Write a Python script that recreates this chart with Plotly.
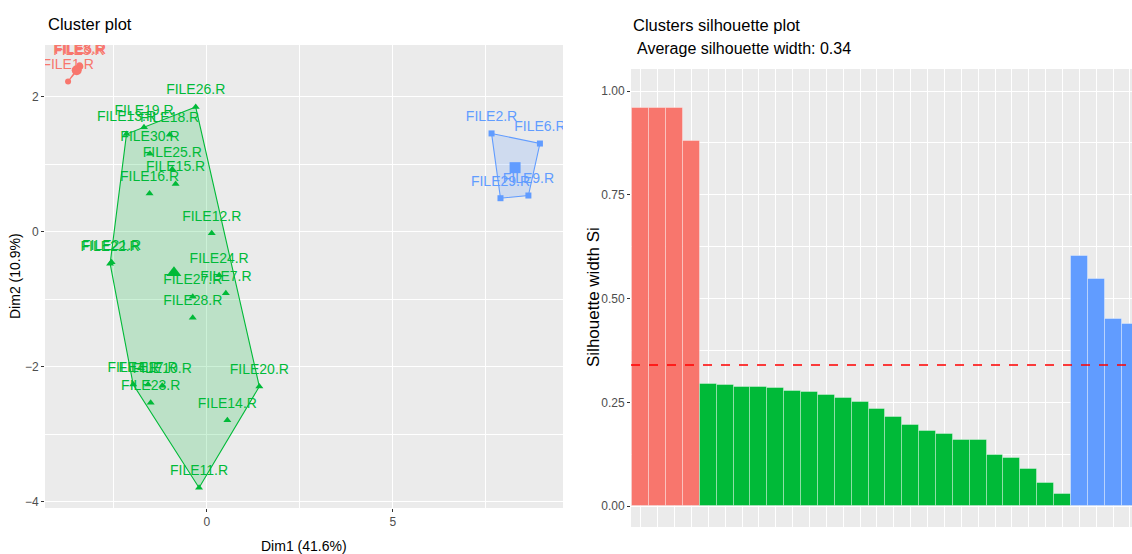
import plotly.graph_objects as go

W, H = 1132, 554

# ---------------- data ----------------
red_names = ["FILE1.R", "FILE3.R", "FILE5.R", "FILE8.R"]
red_x = [-3.73, -3.44, -3.40, -3.42]
red_y = [2.23, 2.43, 2.45, 2.47]

green_names = ["FILE26.R", "FILE19.R", "FILE13.R", "FILE18.R", "FILE30.R", "FILE25.R",
               "FILE15.R", "FILE16.R", "FILE12.R", "FILE22.R", "FILE21.R", "FILE24.R",
               "FILE7.R", "FILE27.R", "FILE28.R", "FILE20.R", "FILE14.R", "FILE11.R",
               "FILE23.R", "FILE4.R", "FILE17.R", "FILE10.R"]
green_x = [-0.30, -1.69, -2.16, -1.00, -1.53, -0.93, -0.84, -1.54, 0.13, -2.60, -2.56, 0.33,
           0.51, -0.38, -0.38, 1.41, 0.55, -0.21, -1.51, -1.98, -1.58, -1.20]
green_y = [1.85, 1.55, 1.45, 1.44, 1.16, 0.93, 0.71, 0.57, -0.02, -0.47, -0.45, -0.64,
           -0.91, -0.96, -1.27, -2.29, -2.79, -3.79, -2.53, -2.26, -2.26, -2.28]

blue_names = ["FILE2.R", "FILE6.R", "FILE9.R", "FILE29.R"]
blue_x = [7.65, 8.95, 8.64, 7.89]
blue_y = [1.46, 1.31, 0.54, 0.50]

sil_red = [0.96, 0.96, 0.96, 0.88]
sil_green = [0.295, 0.292, 0.287, 0.287, 0.284, 0.278, 0.276, 0.269, 0.261, 0.251, 0.234,
             0.216, 0.195, 0.182, 0.174, 0.160, 0.160, 0.123, 0.115, 0.090, 0.056, 0.030]
sil_blue = [0.602, 0.547, 0.452, 0.439]
avg_sil = 0.34

RED, GREEN, BLUE = "#F8766D", "#00BA38", "#619CFF"
FONT = "Liberation Sans, Arial, sans-serif"


def hull(xs, ys):
    pts = sorted(set(zip(xs, ys)))
    if len(pts) < 3:
        return pts

    def cross(o, a, b):
        return (a[0] - o[0]) * (b[1] - o[1]) - (a[1] - o[1]) * (b[0] - o[0])
    lower, upper = [], []
    for p in pts:
        while len(lower) >= 2 and cross(lower[-2], lower[-1], p) <= 0:
            lower.pop()
        lower.append(p)
    for p in reversed(pts):
        while len(upper) >= 2 and cross(upper[-2], upper[-1], p) <= 0:
            upper.pop()
        upper.append(p)
    h = lower[:-1] + upper[:-1]
    return h + [h[0]]


def rgba(hexc, a):
    h = hexc.lstrip("#")
    return "rgba(%d,%d,%d,%s)" % (int(h[0:2], 16), int(h[2:4], 16), int(h[4:6], 16), a)


fig = go.Figure()

clusters = [
    (red_names, red_x, red_y, RED, "circle", 6, 10),
    (green_names, green_x, green_y, GREEN, "triangle-up", 7, 13),
    (blue_names, blue_x, blue_y, BLUE, "square", 6, 11),
]

for names, xs, ys, col, sym, ms, cs in clusters:
    hp = hull(xs, ys)
    fig.add_trace(go.Scatter(
        x=[p[0] for p in hp], y=[p[1] for p in hp], mode="lines", fill="toself",
        fillcolor=rgba(col, 0.2), line=dict(color=col, width=1.1),
        xaxis="x", yaxis="y", hoverinfo="skip", showlegend=False))
for names, xs, ys, col, sym, ms, cs in clusters:
    # labels (invisible spacer marker pushes text above the point)
    fig.add_trace(go.Scatter(
        x=xs, y=ys, mode="markers+text", text=names, textposition="top center",
        textfont=dict(color=col, size=14, family=FONT),
        marker=dict(color=col, size=13, opacity=0),
        xaxis="x", yaxis="y", showlegend=False, hoverinfo="skip"))
    fig.add_trace(go.Scatter(
        x=xs, y=ys, mode="markers", text=names,
        marker=dict(color=col, symbol=sym, size=ms, line=dict(width=0)),
        xaxis="x", yaxis="y", showlegend=False))
    fig.add_trace(go.Scatter(
        x=[sum(xs) / len(xs)], y=[sum(ys) / len(ys)], mode="markers",
        marker=dict(color=col, symbol=sym, size=cs, line=dict(width=0)),
        xaxis="x", yaxis="y", showlegend=False))

# silhouette bars
n_r, n_g, n_b = len(sil_red), len(sil_green), len(sil_blue)
idx_r = list(range(1, n_r + 1))
idx_g = list(range(n_r + 1, n_r + n_g + 1))
idx_b = list(range(n_r + n_g + 1, n_r + n_g + n_b + 1))
for idx, vals, col in [(idx_r, sil_red, RED), (idx_g, sil_green, GREEN), (idx_b, sil_blue, BLUE)]:
    fig.add_trace(go.Bar(
        x=idx, y=vals, width=1.0, marker=dict(color=col, line=dict(color="rgba(255,255,255,0.35)", width=1)),
        xaxis="x2", yaxis="y2", showlegend=False))


def px_x(p):
    return p / W


def px_y(p):
    return 1 - p / H


tickfont = dict(size=12, color="#4D4D4D", family=FONT)
common = dict(showline=False, zeroline=False, gridcolor="white", ticks="outside",
              ticklen=3, tickwidth=1, tickcolor="#333333", tickfont=tickfont)

fig.update_layout(
    width=W, height=H, margin=dict(l=0, r=0, t=0, b=0),
    paper_bgcolor="white", plot_bgcolor="#EBEBEB",
    font=dict(family=FONT, color="black"),
    showlegend=False, barmode="overlay", bargap=0,
    xaxis=dict(domain=[px_x(45), px_x(563)], range=[-4.35, 9.57], tick0=0, dtick=5,
               gridwidth=1.2, anchor="y",
               minor=dict(tick0=0, dtick=2.5, showgrid=True, gridcolor="white", gridwidth=0.6, ticks=""),
               **common),
    yaxis=dict(domain=[px_y(508), px_y(45)], range=[-4.09, 2.77], tick0=0, dtick=2,
               gridwidth=1.2, anchor="x",
               minor=dict(tick0=0, dtick=1, showgrid=True, gridcolor="white", gridwidth=0.6, ticks=""),
               **common),
    xaxis2=dict(domain=[px_x(631), 1.0], range=[0.42, 30.12], tick0=1, dtick=1,
                showticklabels=False, ticks="", showline=False, zeroline=False,
                gridcolor="white", gridwidth=1, anchor="y2"),
    yaxis2=dict(domain=[px_y(527), px_y(69)], range=[-0.05, 1.053], tick0=0, dtick=0.25,
                tickformat=".2f", gridwidth=1.2, anchor="x2",
                minor=dict(tick0=0, dtick=0.125, showgrid=True, gridcolor="white", gridwidth=0.6, ticks=""),
                **common),
)

fig.add_shape(type="line", xref="x2 domain", x0=0, x1=1, yref="y2", y0=avg_sil, y1=avg_sil,
              line=dict(color="red", width=1.6, dash="dash"))

ann = [
    dict(text="Cluster plot", x=px_x(46), y=px_y(24), xanchor="left", yanchor="middle", font=dict(size=16.5)),
    dict(text="Clusters silhouette plot", x=px_x(631), y=px_y(25), xanchor="left", yanchor="middle", font=dict(size=16.5)),
    dict(text="Average silhouette width: %.2f" % avg_sil, x=px_x(635), y=px_y(48), xanchor="left",
         yanchor="middle", font=dict(size=16)),
    dict(text="Dim1 (41.6%)", x=px_x(304), y=px_y(546), xanchor="center", yanchor="middle", font=dict(size=14)),
    dict(text="Dim2 (10.9%)", x=px_x(15), y=px_y(276), xanchor="center", yanchor="middle", textangle=-90,
         font=dict(size=14)),
    dict(text="Silhouette width Si", x=px_x(593), y=px_y(297), xanchor="center", yanchor="middle", textangle=-90,
         font=dict(size=17)),
]
for a in ann:
    a.update(xref="paper", yref="paper", showarrow=False)
    a["font"].update(family=FONT, color="black")
    fig.add_annotation(**a)

fig.write_html("out.html")
